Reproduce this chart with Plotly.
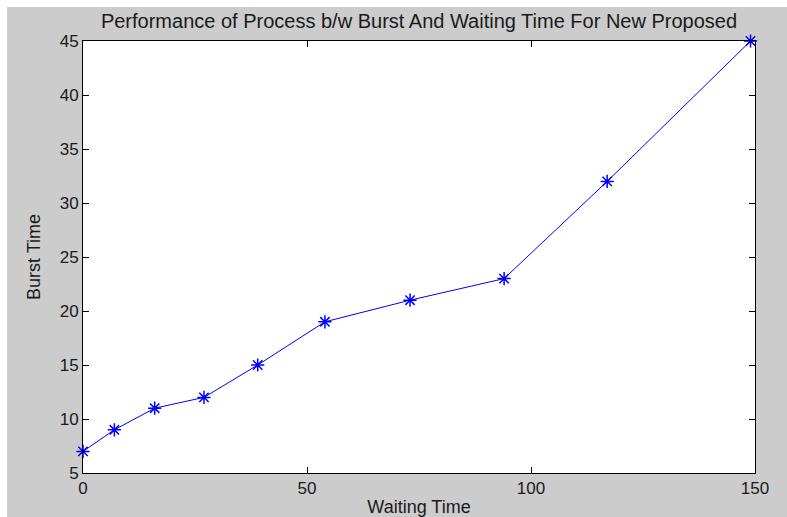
import plotly.graph_objects as go

waiting_time = [0, 7, 16, 27, 39, 54, 73, 94, 117, 149]
burst_time = [7, 9, 11, 12, 15, 19, 21, 23, 32, 45]
x_ticks = [0, 50, 100, 150]
y_ticks = [5, 10, 15, 20, 25, 30, 35, 40, 45]

W, H = 787, 517
L, R, T, B = 83, 32, 41, 44
pw, ph = W - L - R, H - T - B

fig = go.Figure()
fig.add_trace(go.Scatter(
    x=waiting_time, y=burst_time, mode="lines+markers",
    line=dict(color="#0000ff", width=1),
    marker=dict(symbol="asterisk-open", size=11, color="#0000ff",
                line=dict(color="#0000ff", width=1.5)),
    cliponaxis=False, showlegend=False,
))

fam = "Liberation Sans, Arial, sans-serif"
tick_font = dict(family=fam, size=17, color="#1a1a1a")
title_font = dict(family=fam, size=18, color="#1a1a1a")
axis_common = dict(showline=True, linecolor="black", linewidth=1, mirror="ticks",
                   ticks="inside", ticklen=6, tickcolor="black", showgrid=False,
                   zeroline=False, tickfont=tick_font, automargin=False)

def px_to_paper_x(p):
    return (p - L) / pw

def px_to_paper_y(p):
    return (H - B - p) / ph

shapes = [
    dict(type="rect", xref="paper", yref="paper",
         x0=px_to_paper_x(0), x1=px_to_paper_x(W), y0=px_to_paper_y(7), y1=px_to_paper_y(0),
         fillcolor="white", line=dict(width=0), layer="below"),
    dict(type="rect", xref="paper", yref="paper",
         x0=px_to_paper_x(0), x1=px_to_paper_x(7), y0=px_to_paper_y(H), y1=px_to_paper_y(0),
         fillcolor="white", line=dict(width=0), layer="below"),
]

fig.update_layout(
    width=W, height=H,
    margin=dict(l=L, r=R, t=T, b=B, pad=0),
    paper_bgcolor="#cccccc", plot_bgcolor="white",
    font=tick_font,
    title=dict(text="Performance of Process b/w Burst And Waiting Time For New Proposed",
               x=0.5, xref="paper", xanchor="center", y=1 - 21 / H, yanchor="middle",
               automargin=False,
               font=dict(family=fam, size=20, color="#1a1a1a")),
    xaxis=dict(range=[0, 150], tickvals=x_ticks, title=dict(text="Waiting Time", standoff=8, font=title_font),
               **axis_common),
    yaxis=dict(range=[5, 45], tickvals=y_ticks, title=dict(text="Burst Time", standoff=14, font=title_font),
               **axis_common),
    shapes=shapes,
)

fig.write_html("out.html")
